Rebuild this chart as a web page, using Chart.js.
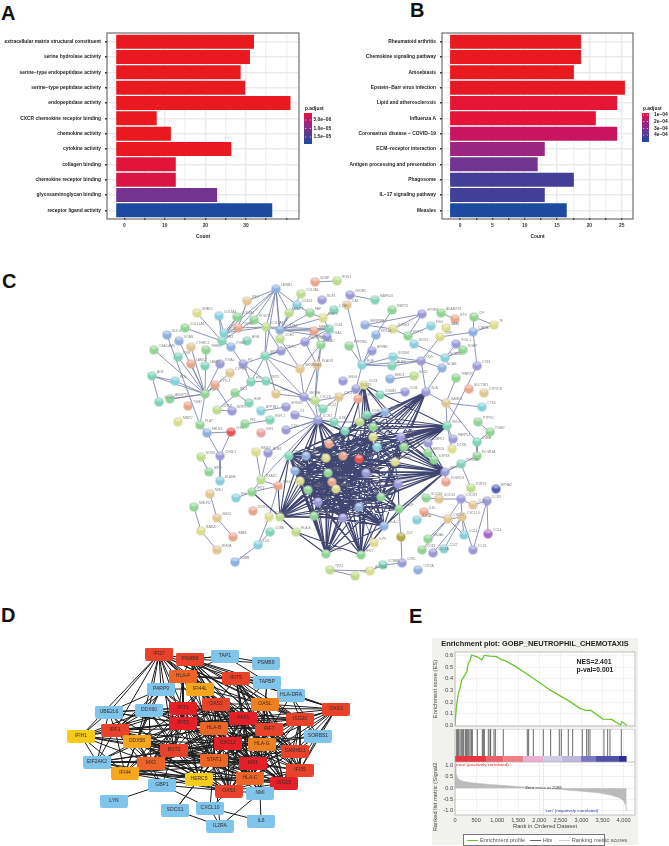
<!DOCTYPE html>
<html>
<head>
<meta charset="utf-8">
<title>Enrichment and network panels</title>
<script src="https://cdn.jsdelivr.net/npm/chart.js@4/dist/chart.umd.js"></script>
<style>
  html, body { margin: 0; padding: 0; background: #fff; }
  #page { position: relative; width: 669px; height: 846px; overflow: hidden; font-family: "Liberation Sans", Arial, sans-serif; }
  canvas { position: absolute; }
  .tag { position: absolute; font-weight: bold; font-size: 20px; line-height: 20px; color: #111; }
  #gseaBack { position: absolute; left: 432px; top: 638px; width: 206px; height: 207px; background: #f1f1ee; }
  #gseaKey { position: absolute; left: 463px; top: 834px; width: 140px; height: 10px; background: #fff; border: 1px solid #777;
             font-size: 5.6px; line-height: 10px; color: #555; white-space: nowrap; }
  #gseaKey i { display: inline-block; width: 11px; height: 1.2px; vertical-align: middle; margin: 0 2px 0 3px; }
</style>
</head>
<body>
<div id="page">
  <div class="tag" style="left:1px;top:3px">A</div>
  <div class="tag" style="left:410px;top:0px">B</div>
  <div class="tag" style="left:2px;top:271px">C</div>
  <div class="tag" style="left:1px;top:605px">D</div>
  <div class="tag" style="left:409px;top:606px">E</div>
  <div id="gseaBack"></div>
  <canvas id="barA" width="340" height="240" style="left:0;top:0"></canvas>
  <canvas id="barB" width="329" height="240" style="left:340px;top:0"></canvas>
  <canvas id="string" width="450" height="355" style="left:95px;top:235px"></canvas>
  <canvas id="hubs" width="400" height="246" style="left:0;top:600px"></canvas>
  <canvas id="esPlot" width="206" height="92" style="left:432px;top:638px"></canvas>
  <canvas id="hitPlot" width="206" height="33" style="left:432px;top:729px"></canvas>
  <canvas id="rankPlot" width="206" height="72" style="left:432px;top:762px"></canvas>
  <div id="gseaKey"><i style="background:#6cc52f"></i>Enrichment profile <i style="background:#666"></i>Hits <i style="background:#ccc;margin-left:5px"></i>Ranking metric scores</div>
</div>

<script>
// panel A
const termsA = ['extracellular matrix structural constituent', 'serine hydrolase activity', 'serine\u2212type endopeptidase activity',
  'serine\u2212type peptidase activity', 'endopeptidase activity', 'CXCR chemokine receptor binding', 'chemokine activity',
  'cytokine activity', 'collagen binding', 'chemokine receptor binding', 'glycosaminoglycan binding', 'receptor ligand activity'];
const countA = [32, 31, 28.7, 29.8, 41, 8, 11.5, 26.4, 12.7, 12.7, 22.9, 36.5];
const padjA = [9e-7, 9e-7, 9e-7, 9e-7, 9e-7, 9e-7, 9e-7, 9e-7, 1.8e-6, 2.4e-6, 1.13e-5, 1.91e-5];
const padjTicksA = [5e-6, 1e-5, 1.5e-5];
const padjLabelsA = ['5.0e\u221206', '1.0e\u221205', '1.5e\u221205'];

// panel B
const termsB = ['Rheumatoid arthritis', 'Chemokine signaling pathway', 'Amoebiasis', 'Epstein\u2212Barr virus infection',
  'Lipid and atherosclerosis', 'Influenza A', 'Coronavirus disease \u2212 COVID\u221219', 'ECM\u2212receptor interaction',
  'Antigen processing and presentation', 'Phagosome', 'IL\u221217 signaling pathway', 'Measles'];
const countB = [18.7, 18.7, 17.6, 25.5, 24.3, 21, 24.3, 13.1, 12, 17.6, 13.1, 16.5];
const padjB = [7e-5, 7e-5, 7e-5, 7.5e-5, 8.8e-5, 9e-5, 1.35e-4, 2.35e-4, 3.27e-4, 4.2e-4, 4.25e-4, 5.05e-4];
const padjTicksB = [1e-4, 2e-4, 3e-4, 4e-4];
const padjLabelsB = ['1e\u221204', '2e\u221204', '3e\u221204', '4e\u221204'];

// panel C, string network (x, y)
const netName = ['GDNF','RGS1','LMNB1','COL7A1','NCF1','KIF1','CD163','CTSK','SPARC','MMP1',
  'FAP','COL6A1','COL8A1','POSTN','MMP3','COL1A1','COL5A1','COL12A1','LOX','TGFBI',
  'MMP9','CD44','SDC4','VCAN','FN1','BGN','CDH2','ITGA5','SERPINE1','PLAU',
  'CEACAM6','CTHRC1','THBS2','ITGB5','TIMP1','LUM','SPP1','LAMC2','LAMB3','ITGA2',
  'F3','SERPINA1','PLAUR','CYP1B1','ACE','ELN','CYTL1','PI3','KRT5','PIK3',
  'FGF7','TNC','VEGFA','CXCL8','TGFB2','ANGPT2','TGM2','HGF','CDH11','NRP1',
  'ATP1B1','SPINK1','C3','CCL2','CXCL12','ESPL1','MMP2','PLAT','FBLN1','OGN',
  'PRL','IGF1','C1S','CCR1','IL1B','CCL19','CD74','CCR7','CD86','CD52',
  'HCK','IL6','ICAM1','CCL5','CD69','CXCL10','CXCL9','CXCL11','IRF1','TNF',
  'STAT1','IFIH1','DDX58','ISG15','MX1','OAS1','OAS2','OAS3','IFI44','RSAD2',
  'IFIT1','IFI6','IFIT3','GBP1','DDIT4','MKI67','BUB1','NMU','NMUR2','GNG2',
  'RAB20','RAB6','RHOA','CD3E','CD4','CD8A','HLA-E','LCK','GZMB','CHI3L1',
  'NOS2','MPO','ELANE','HLA-A','HLA-B','HLA-C','HLA-F','PSMB8','PSMB9','TAP1',
  'XAF1','EPSTI1','CMPK2','PARP14','DTX3L','HERC6','USP18','ISG20','SAMD9','CTSS',
  'PTPRC','ITGB2','CYBB','FCGR3A','TYROBP','IRF7','FCER1G','P2RY6','EPHA2','CXCR3',
  'CCR5','CCR2','SOCS1','SOCS3','IL10','IL2RA','CXCR4','CXCL13','CCL4','CCL3',
  'CCL8','MS4A1','CD2','CD19','CD79A','CD22','TOP2A','CDK1','CCNB1','AURKA',
  'TTK','TPX2','IL7R','IFI27','IFITM1','OR1B1','MAPK10','CA1','MMP25','SPRR3',
  'SERPINB4','KCNK3','KRT6A','KRT17','FGG','ADAMTS1','NTS','CFI','TF','C4BPA',
  'SAA1','CRP','VGLL1','NGEF','NOX1','EPHB2','PTPRN2','EGF','KCNN4','BLNK',
  'CD5','NCAM1','NCAN','CT83','TFAP2C','EMC3','SOX2','SULT1E1','CYP2C8','CNGB2',
  'CD3L','GLA','GNG4'];
const netX = [315,337,276,301,322,247,297,334,197,289,
  310,219,237,254,323,266,280,185,224,238,
  314,329,167,179,222,247,280,327,305,321,
  154,191,206,231,281,178,265,191,205,220,
  243,300,317,230,152,175,215,251,266,235,
  205,276,304,315,159,170,188,249,217,232,
  261,286,295,323,339,270,178,200,207,231,
  245,261,286,318,334,356,364,358,367,360,
  373,345,373,329,377,343,359,326,306,289,
  366,328,332,336,295,300,308,318,278,261,
  252,236,381,359,253,256,268,210,194,217,
  201,233,217,269,280,270,296,258,235,220,
  201,209,220,314,343,384,399,398,395,385,
  401,404,428,453,452,428,434,447,446,482,
  478,490,477,477,461,445,446,471,496,461,
  487,473,439,426,424,417,448,462,464,488,
  473,428,401,422,433,444,418,402,383,370,
  355,330,374,361,326,350,375,347,392,422,
  365,393,376,408,431,441,455,474,494,473,
  446,440,456,463,414,372,349,362,393,392,
  421,445,442,477,456,390,414,469,484,380,
  405,426,343];
const netY = [282,281,289,294,300,301,305,310,313,313,
  313,316,317,320,318,327,330,328,333,328,
  331,329,335,341,341,341,339,337,342,345,
  350,347,350,347,351,357,356,364,366,364,
  364,369,365,373,376,381,385,382,381,393,
  394,394,397,401,402,399,406,403,410,411,
  411,407,415,409,397,420,422,425,433,432,
  424,433,430,420,422,389,385,399,415,422,
  427,431,437,444,447,456,459,458,456,456,
  473,473,482,489,471,481,490,502,486,480,
  492,498,497,507,511,452,453,494,507,518,
  531,537,550,517,517,532,532,545,562,456,
  457,472,481,516,518,526,509,484,462,412,
  437,447,443,439,449,453,460,426,403,407,
  422,432,442,456,464,472,482,488,489,499,
  501,505,499,498,512,520,519,517,535,534,
  550,539,537,550,553,549,570,563,565,571,
  576,570,543,555,554,295,300,305,310,314,
  325,329,335,336,326,313,319,317,325,332,
  328,337,344,350,344,351,346,365,357,366,
  361,358,368,366,378,379,376,389,393,395,
  392,392,381];
const netGroup = ['sa','yg','bl','yg','pu','ta','cy','te','ye','yg',
  'gr','cy','gr','gr','ye','yg','bl','gr','cy','sa',
  'sa','te','bl','bl','te','te','yg','pu','pu','gr',
  'gr','ta','gr','bl','pu','te','te','sa','te','pu',
  'pu','ta','ta','ta','te','cy','sa','te','te','gr',
  'gr','ta','pu','yg','te','gr','sa','te','yg','pu',
  'cy','pu','pu','te','ta','te','ye','gr','bl','re',
  'gr','pi','pu','pu','te','pu','ye','sa','te','yg',
  'gr','te','ye','sa','cy','sa','re','ye','bl','te',
  'pu','gr','sa','ye','bl','ye','gr','pu','sa','yg',
  'gr','cy','gr','bl','sa','ye','pu','ta','gr','ta',
  'ye','sa','ta','ye','yg','te','yg','cy','bl','pu',
  'yg','gr','cy','gr','pu','bl','gr','pu','ye','bl',
  'pu','gr','pu','pu','ye','gr','gr','te','ta','cy',
  'gr','gr','te','gr','te','pu','sa','yg','db','pu',
  'pu','ta','ta','gr','sa','cy','ta','ta','cy','mg',
  'pu','gr','ol','gr','pu','cy','bl','pu','te','ye',
  'yg','yg','ye','gr','gr','pu','te','ta','gr','pu',
  'bl','ye','bl','gr','cy','gr','sa','gr','ye','bl',
  'ye','ye','pu','gr','cy','pu','gr','cy','cy','te',
  'pu','cy','bl','pu','gr','bl','yg','sa','ta','te',
  'pu','pu','pu'];
const netEdgesThin = '0-1 2-5 2-6 2-9 2-13 2-15 2-16 2-19 2-18 2-26 2-36 3-16 5-19 6-16 6-10 7-14 8-24 9-16 10-16 10-14 11-24 11-18 12-18 12-24 ' +
  '13-15 13-24 14-16 14-21 15-16 15-19 15-18 15-36 15-21 16-20 16-21 16-27 17-24 18-24 18-19 20-21 20-28 20-29 21-27 21-28 27-41 27-29 28-42 28-36 ' +
  '29-42 29-53 22-67 23-50 30-50 31-50 32-50 33-24 33-40 34-36 34-40 34-15 35-50 36-41 36-52 36-47 37-50 39-50 40-47 40-48 41-52 41-26 42-52 42-53 ' +
  '43-50 44-54 44-50 44-45 45-50 46-50 46-59 47-48 47-58 48-52 48-53 49-57 50-55 50-67 51-36 51-52 52-53 52-63 53-64 53-63 55-50 59-58 60-61 ' +
  '63-73 63-64 62-73 64-75 64-74 65-70 67-68 68-69 68-119 69-119 119-122 120-121 72-73 73-52 73-53 73-72 73-106 73-99 105-99 106-99 98-99 98-113 98-100 ' +
  '100-99 101-100 113-117 115-117 117-118 107-109 108-110 110-112 109-111 175-176 177-197 178-182 179-180 179-181 179-183 180-181 181-183 183-184 185-186 ' +
  '187-189 187-188 188-189 189-191 189-203 191-200 192-193 192-201 193-201 194-201 182-197 195-197 196-197 197-198 197-199 197-200 198-200 199-200 197-75 ' +
  '200-202 200-211 202-211 203-137 204-138 205-206 209-210 211-138 138-142 138-137 140-141 141-142 142-143 144-147 144-145 145-146 149-152 149-157 149-151 ' +
  '150-151 150-160 150-159 157-158 157-160 157-156 156-149 156-158 153-152 154-156 156-163 157-164 157-165 161-156 162-167 167-168 168-169 169-171 170-171 ' +
  '172-103 126-162 75-76 76-77 77-79 78-79 79-80 74-79 74-81 78-80 129-78 129-80 132-137 133-137 134-137 135-145 136-145 143-145 130-145 131-137 139-138';
// adjacency of the dense core, hub: neighbours
const netCore = [
  [73, '81 83 85 87 88 89 91 92 94 95 93 74 86 96 90 84'],
  [114, '83 85 87 88 89 91 92 93 94 95 96 97 98 100 103 116 123 124 86 90 82 102'],
  [173, '83 85 86 87 90 91 92 93 94 95 96 97 103 116 124 125 126 127 82 128'],
  [174, '83 85 86 87 88 89 90 91 92 93 94 95 96 97 103 116 123 124 125 82 127'],
  [145, '76 78 79 80 82 84 85 86 87 88 89 90 91 92 93 94 95 96 97 102 103 123 125 126 127 128 130 131 132 135'],
  [137, '76 78 79 80 82 84 85 86 87 88 89 90 91 92 93 94 95 83 81 128 130 131 132 96'],
  [211, '79 80 82 84 85 86 87 88 89 83 81 90 128 130 131'],
  [81, '82 83 85 87 88 89 86 91 94 90 92 93 84 80 79'],
  [82, '83 84 85 86 87 88 89 90 91 92 93 94 128 130 103 96 124'],
  [83, '85 86 87 88 89 90 91 92 93 94 95 96 97 124'],
  [84, '85 86 87 90 91 92 93 102 128 130 131 127'],
  [85, '86 87 88 89 90 91 92 93 94 95 96 97 102 103 123 124 125 126 127 128'],
  [86, '87 88 89 90 91 92 93 94 95 96 97 102 103 123 124 125 127 128 130'],
  [87, '88 89 90 91 92 93 94 95 96 97 102 103 123 124 125 128'],
  [88, '89 90 91 92 93 94 95 96 97 123 124 103'],
  [89, '90 91 92 93 94 95 96 97 123 124 98 103'],
  [90, '91 92 93 94 95 96 97 102 103 123 124 125 126 127 128 130 131'],
  [91, '92 93 94 95 96 97 102 103 123 124 125 127'],
  [92, '93 94 95 96 97 102 103 123 124 125 126'],
  [93, '94 95 96 97 102 103 123 124 125 126 127 128'],
  [94, '95 96 97 103 123 124 125'],
  [95, '96 97 123 124 103 125'],
  [96, '97 103 123 124 125 126'],
  [97, '102 103 123 124 125 126 127'],
  [102, '103 125 126 127 128 130 131'],
  [103, '123 124 125 126 127 128'],
  [123, '124 125'],
  [124, '125 126'],
  [127, '128 125 126'],
  [128, '129 130 131'],
  [76, '80 85 86 82 129 78 90 87'],
  [78, '85 86 82 83 87'],
  [80, '85 86 87 90 93']
];

// panel D, hub genes (x, y)
const hubName = ['IFI27','PSMB8','TAP1','PSMB9','HLA-F','IFIT5','TAPBP','PARP9','IFI44L','HLA-DRA',
  'OAS2','OASL','OAS3','IFIT1','UBE2L6','DDX60','XAF1','ISG20','IFIT3','IRF1',
  'HLA-B','IRF7','IFIH1','SORBS1','DDX58','CXCL2','HLA-G','BST2','SAMHD1','EIF2AK2',
  'STAT1','MX1','MX2','IFI35','IFI44','HERC5','HLA-C','ISG15','GBP1','OAS1',
  'NMI','LYN','SOCS1','CXCL10','IL6','IL2RA'];
const hubX = [159,190,225,266,183,236,267,161,200,291,
  216,265,336,183,109,149,243,300,183,115,
  214,269,81,318,137,228,262,174,295,97,
  214,253,151,300,125,199,250,284,162,229,
  260,114,175,210,261,220];
const hubY = [654,659,656,663,676,678,682,689,689,695,
  704,704,709,708,712,710,718,719,723,730,
  728,729,736,736,741,743,744,750,751,762,
  760,763,763,770,773,779,778,783,785,791,
  793,801,810,808,821,826];
const hubHeat = ['ro','ro','bl','bl','or','ro','bl','bl','am','bl',
  'ro','om','ro','re','bl','bl','re','ro','re','ro',
  'or','ro','ye','bl','am','re','om','ro','ro','bl',
  'or','re','or','ro','am','ye','or','re','bl','ro',
  'bl','bl','bl','bl','bl','bl'];
const hubLinks = [
  ['IFI27', 'PSMB8 HLA-F IFIT5 IFI44L PARP9 OAS2 OASL IFIT1 IFIT3 XAF1 IRF1 DDX60 HLA-B IRF7 BST2 ISG20 UBE2L6 IFIH1 DDX58'],
  ['PSMB8', 'TAP1 PSMB9 HLA-F IFIT5 TAPBP IFI44L OAS2 OASL HLA-B STAT1 XAF1 IRF7 HLA-G HLA-C SAMHD1 ISG20 OAS3 MX1'],
  ['TAP1', 'PSMB9 TAPBP HLA-F PSMB8'],
  ['HLA-F', 'IFIT5 OAS2 IFIT1 HLA-B XAF1 HLA-G STAT1 IRF1 BST2 IFIT3 ISG20 TAPBP'],
  ['IFIT5', 'OAS2 OASL XAF1 IRF7 ISG20 OAS3 HLA-DRA TAPBP HLA-G SAMHD1 IFI35 ISG15 MX1 HLA-C'],
  ['TAPBP', 'HLA-B HLA-G HLA-DRA OASL'],
  ['PARP9', 'IRF1 IFIT1 IFIT3 DDX60 UBE2L6 DDX58 STAT1 HLA-B IFI44L'],
  ['IFI44L', 'OAS2 IFIT1 IFIT3 XAF1 HLA-B CXCL2 MX1 MX2 OASL IRF7 ISG15'],
  ['HLA-DRA', 'OAS3 HLA-G SORBS1 OASL ISG20'],
  ['OAS2', 'OASL IFIT1 IFIT3 XAF1 HLA-B IRF7 CXCL2 HLA-G BST2 STAT1 MX1 MX2 ISG15 OAS1 HERC5 SAMHD1 IFI35'],
  ['OASL', 'OAS3 XAF1 ISG20 IRF7 HLA-G CXCL2 MX1 SAMHD1 ISG15 STAT1 HLA-B IFI35'],
  ['OAS3', 'ISG20 IRF7 XAF1 SAMHD1 IFI35 ISG15 HLA-G SORBS1 MX1 OAS1 IFIT1 CXCL2'],
  ['IFIT1', 'IFIT3 XAF1 HLA-B IRF1 IRF7 BST2 DDX58 DDX60 CXCL2 STAT1 MX1 MX2 ISG15 OAS1 HERC5 IFI44 IFIH1 ISG20 HLA-C'],
  ['UBE2L6', 'IRF1 DDX60 IFIT3 BST2 IFIH1 HLA-B DDX58 EIF2AK2 IFIT1 MX2'],
  ['DDX60', 'IRF1 IFIT3 DDX58 BST2 IFIH1 HLA-B MX2 STAT1 XAF1 HERC5 IFI44 CXCL2'],
  ['XAF1', 'IFIT3 HLA-B IRF7 ISG20 CXCL2 HLA-G BST2 STAT1 MX1 MX2 SAMHD1 IFI35 ISG15 HLA-C OAS1 HERC5 IRF1 NMI'],
  ['ISG20', 'IRF7 HLA-G CXCL2 SAMHD1 IFI35 ISG15 MX1 HLA-B STAT1 IFIT3 HLA-C'],
  ['IFIT3', 'HLA-B IRF1 BST2 DDX58 IFIH1 STAT1 MX2 MX1 CXCL2 IRF7 IFI44 HERC5 EIF2AK2 OAS1 ISG15 HLA-C'],
  ['IRF1', 'IFIH1 DDX58 BST2 EIF2AK2 MX2 STAT1 IFI44 HLA-B CXCL2 HERC5 GBP1 HLA-C OAS1 MX1'],
  ['HLA-B', 'IRF7 CXCL2 HLA-G BST2 STAT1 MX1 MX2 HLA-C OAS1 ISG15 SAMHD1 IFI35 HERC5 DDX58 NMI'],
  ['IRF7', 'CXCL2 HLA-G SAMHD1 IFI35 ISG15 MX1 HLA-C STAT1 OAS1 BST2 MX2 HERC5 NMI'],
  ['IFIH1', 'DDX58 EIF2AK2 IFI44 MX2 BST2 STAT1'],
  ['SORBS1', 'SAMHD1 IFI35 HLA-G CXCL2 ISG20'],
  ['DDX58', 'BST2 EIF2AK2 MX2 IFI44 STAT1 HERC5 CXCL2 HLA-B HLA-C OAS1 MX1 GBP1'],
  ['CXCL2', 'HLA-G BST2 STAT1 MX1 MX2 HLA-C OAS1 ISG15 SAMHD1 IFI35 HERC5 NMI'],
  ['HLA-G', 'STAT1 MX1 SAMHD1 IFI35 ISG15 HLA-C OAS1 BST2 NMI'],
  ['BST2', 'STAT1 MX1 MX2 IFI44 HERC5 OAS1 HLA-C ISG15 EIF2AK2 GBP1'],
  ['SAMHD1', 'IFI35 ISG15 MX1 HLA-C STAT1 OAS1'],
  ['EIF2AK2', 'MX2 IFI44 STAT1 HERC5 MX1 OAS1 CXCL2'],
  ['STAT1', 'MX1 MX2 IFI44 HERC5 HLA-C OAS1 ISG15 IFI35 GBP1 NMI CXCL10 SOCS1 IL2RA'],
  ['MX1', 'MX2 IFI35 HERC5 HLA-C ISG15 OAS1 IFI44 NMI'],
  ['MX2', 'IFI44 HERC5 OAS1 HLA-C ISG15'],
  ['IFI35', 'ISG15 HLA-C OAS1 NMI'],
  ['IFI44', 'HERC5 OAS1 HLA-C ISG15'],
  ['HERC5', 'OAS1 HLA-C ISG15 GBP1 SOCS1'],
  ['HLA-C', 'ISG15 OAS1 NMI'],
  ['ISG15', 'OAS1 NMI'],
  ['GBP1', 'LYN CXCL10 OAS1'],
  ['OAS1', 'CXCL10 NMI'],
  ['NMI', 'IL6 IL2RA'],
  ['SOCS1', 'IL2RA'],
  ['CXCL10', 'IL6 IL2RA']
];

// panel E, GSEA
const esRank = [0,30,55,80,120,160,237,277,316,356,395,474,553,632,695,830,988,1107,1186,1423,1778,2253,2727,2964,3123,3218,3510,3716,3929,3960,4071];
const esValue = [0,.146,.218,.276,.32,.39,.434,.46,.535,.557,.606,.597,.586,.563,.603,.597,.592,.563,.557,.51,.425,.305,.204,.146,.126,.13,.054,.051,.003,.031,0];
const hitRanks = [40,63,87,119,150,182,206,245,269,292,324,356,387,411,530,648,672,696,790,830,846,925,957,1146,1715,1747,1858,2095,2269,2474,2522,2688,2791,3020,3123,3162,3202,3534,3621,3676,3945];
const ribbonEnds = [750,1146,1620,2095,2530,2988,3344,3873,4071];
const metricRank = [0,20,50,100,200,400,800,1200,1600,2098,2500,3000,3400,3700,3900,4000,4050,4071];
const metricValue = [1,.7,.5,.37,.3,.24,.17,.12,.06,0,-.05,-.13,-.2,-.3,-.42,-.55,-.75,-1];
const zeroCross = 2098;

// styles
const sans = '"Liberation Sans", Arial, sans-serif';
const frameColor = '#555';
const nodePalette = { sa:'#e9a58c', yg:'#bddc8c', bl:'#8fb0de', pu:'#9a9ad8', ta:'#e0c690', cy:'#86d0dc', te:'#7fd3b6', ye:'#dcdc8e',
  gr:'#90d494', re:'#e85454', pi:'#e9a2a2', db:'#5560b0', mg:'#a868c4', ol:'#b0a83e' };
const hubPalette = { re:'#e41f27', ro:'#e8432a', or:'#ec6526', om:'#f07f22', am:'#f6a71e', ye:'#f7cb1c', bl:'#7fc4ea' };
const ribbonColors = ['#e8373f','#e8606a','#f08088','#eeb0d0','#d0cce6','#c0b8e0','#7a78c2','#5050a8','#2a2a98'];
const padjStops = [[0,[232,25,31]],[.05,[227,20,58]],[.15,[201,21,95]],[.38,[154,38,130]],[.59,[111,53,144]],[.81,[66,63,151]],[1,[28,74,160]]];

Chart.defaults.animation = false;
Chart.defaults.responsive = false;
Chart.defaults.font.family = sans;
Chart.defaults.plugins.legend.display = false;
Chart.defaults.plugins.tooltip.enabled = false;

function padjColor(v, lo, hi) {
  const t = Math.min(1, Math.max(0, (v - lo) / (hi - lo)));
  let i = 0;
  while (i < padjStops.length - 2 && t > padjStops[i + 1][0]) i++;
  const [t0, c0] = padjStops[i], [t1, c1] = padjStops[i + 1];
  const k = (t - t0) / (t1 - t0);
  const mix = n => Math.round(c0[n] + (c1[n] - c0[n]) * k);
  return `rgb(${mix(0)},${mix(1)},${mix(2)})`;
}

// frame plus colour bar legend of the enrichment bars
function barExtras(o) {
  return {
    id: 'barExtras',
    afterDraw(chart) {
      const { ctx, chartArea: a } = chart;
      ctx.save();
      ctx.strokeStyle = frameColor;
      ctx.lineWidth = 1;
      ctx.strokeRect(a.left, a.top - 1, a.right - a.left, a.bottom - a.top + 2);
      const g = ctx.createLinearGradient(0, o.top, 0, o.top + o.h);
      padjStops.forEach(([t, c]) => g.addColorStop(t, `rgb(${c.join(',')})`));
      ctx.fillStyle = g;
      ctx.fillRect(o.x, o.top, o.w, o.h);
      ctx.fillStyle = '#222';
      ctx.font = 'bold 4.9px ' + sans;
      ctx.textBaseline = 'middle';
      ctx.fillText('p.adjust', o.x + 1, o.top - 4);
      o.ticks.forEach((v, i) => {
        const y = o.top + (v - o.lo) / (o.hi - o.lo) * o.h;
        ctx.fillStyle = '#fff';
        ctx.fillRect(o.x + 1, y - .3, 1.3, .6);
        ctx.fillRect(o.x + o.w - 2.3, y - .3, 1.3, .6);
        ctx.fillStyle = '#222';
        ctx.fillText(o.labels[i], o.x + o.w + o.gap, y);
      });
      ctx.restore();
    }
  };
}

function barChart(id, terms, counts, padj, o) {
  new Chart(document.getElementById(id), {
    type: 'bar',
    data: {
      labels: terms,
      datasets: [{
        data: counts,
        base: o.base,
        backgroundColor: padj.map(v => padjColor(v, o.lo, o.hi)),
        barPercentage: .91,
        categoryPercentage: 1
      }]
    },
    options: {
      indexAxis: 'y',
      layout: { autoPadding: false, padding: { top: 34, right: o.right, left: 0, bottom: 0 } },
      scales: {
        x: {
          min: o.xMin, max: o.xMax,
          afterFit: s => { s.height = 22; },
          afterBuildTicks: s => { s.ticks = o.grid.map(v => ({ value: v })); },
          grid: { color: c => (c.tick && o.labelled.includes(c.tick.value)) ? '#ebebeb' : '#f3f3f3', lineWidth: 1.4, tickLength: 2, tickColor: '#444' },
          border: { display: false },
          ticks: { color: '#333', font: { size: 4.9, weight: 'bold' }, padding: 3, maxRotation: 0,
            callback: v => o.labelled.includes(v) ? String(v) : '' },
          title: { display: true, text: 'Count', color: '#222', font: { size: 4.9, weight: 'bold' }, padding: 0 }
        },
        y: {
          afterFit: s => { s.width = o.left; },
          grid: { color: '#ebebeb', lineWidth: 1.4, offset: false, tickLength: 2, tickColor: '#333' },
          border: { display: false },
          ticks: { autoSkip: false, color: '#222', font: { size: 4.9, weight: 'bold' }, padding: 4 }
        }
      }
    },
    plugins: [barExtras(o)]
  });
}

barChart('barA', termsA, countA, padjA, {
  base: -2, xMin: -4.27, xMax: 43.1, left: 107, right: 41, lo: 9e-7, hi: 1.91e-5,
  grid: [0, 5, 10, 15, 20, 25, 30, 35, 40], labelled: [0, 10, 20, 30],
  ticks: padjTicksA, labels: padjLabelsA, x: 304, top: 113, w: 8, h: 31, gap: 1.5
});
barChart('barB', termsB, countB, padjB, {
  base: -1.55, xMin: -2.8, xMax: 26.75, left: 102, right: 36, lo: 7e-5, hi: 5.05e-4,
  grid: [0, 2.5, 5, 7.5, 10, 12.5, 15, 17.5, 20, 22.5, 25], labelled: [0, 5, 10, 15, 20, 25],
  ticks: padjTicksB, labels: padjLabelsB, x: 302, top: 113, w: 7, h: 29, gap: 5
});

// glossy ball sprite for the string nodes
function ballSprite(color) {
  const c = document.createElement('canvas');
  c.width = c.height = 11;
  const g = c.getContext('2d');
  const fill = g.createRadialGradient(5.5, 6, 1, 5.5, 5.5, 5);
  fill.addColorStop(0, color);
  fill.addColorStop(.8, color);
  fill.addColorStop(1, '#8a8b90');
  g.fillStyle = fill;
  g.beginPath(); g.arc(5.5, 5.5, 4.6, 0, Math.PI * 2); g.fill();
  g.fillStyle = 'rgba(255,255,255,.45)';
  g.beginPath(); g.ellipse(5.5, 3.2, 3, 1.6, 0, 0, Math.PI * 2); g.fill();
  return c;
}
function boxSprite(color) {
  const c = document.createElement('canvas');
  c.width = 28; c.height = 13;
  const g = c.getContext('2d');
  g.fillStyle = color;
  g.beginPath(); g.roundRect(0, 0, 28, 13, 2); g.fill();
  return c;
}
function spriteSet(palette, make) {
  const out = {};
  Object.keys(palette).forEach(k => { out[k] = make(palette[k]); });
  return out;
}

// one line dataset with gaps between the edges
function edgePoints(pairs, xs, ys) {
  const pts = [];
  pairs.forEach(([a, b]) => {
    pts.push({ x: xs[a], y: ys[a] }, { x: xs[b], y: ys[b] }, { x: NaN, y: NaN });
  });
  return pts;
}
function edgeDataset(pts, color, width, order) {
  return { type: 'line', data: pts, borderColor: color, borderWidth: width, pointRadius: 0, spanGaps: false, tension: 0, order: order };
}

const nodeLabels = {
  id: 'nodeLabels',
  afterDatasetsDraw(chart, args, o) {
    const { ctx, scales } = chart;
    ctx.save();
    ctx.font = o.font;
    ctx.fillStyle = o.color;
    ctx.textAlign = o.align;
    ctx.textBaseline = 'middle';
    o.names.forEach((n, i) => {
      ctx.fillText(n, scales.x.getPixelForValue(o.xs[i]) + o.dx, scales.y.getPixelForValue(o.ys[i]) + o.dy);
    });
    ctx.restore();
  }
};

function networkOptions(xMin, xMax, yMin, yMax, labels) {
  return {
    layout: { autoPadding: false, padding: 0 },
    scales: {
      x: { type: 'linear', min: xMin, max: xMax, display: false },
      y: { type: 'linear', min: yMin, max: yMax, reverse: true, display: false }
    },
    plugins: { nodeLabels: labels }
  };
}

// panel C
const ballSprites = spriteSet(nodePalette, ballSprite);
const thinPairs = netEdgesThin.split(' ').map(e => e.split('-').map(Number));
const corePairs = [];
netCore.forEach(([hub, list]) => list.split(' ').forEach(n => corePairs.push([hub, Number(n)])));
new Chart(document.getElementById('string'), {
  type: 'scatter',
  data: {
    datasets: [
      { data: netX.map((x, i) => ({ x: x, y: netY[i] })), pointStyle: netGroup.map(g => ballSprites[g]), pointRadius: 4.5, order: 0 },
      edgeDataset(edgePoints(corePairs, netX, netY), 'rgba(42,50,98,.9)', 1.1, 1),
      edgeDataset(edgePoints(thinPairs, netX, netY), '#6f78a6', .8, 2)
    ]
  },
  options: networkOptions(95, 545, 235, 590, { names: netName, xs: netX, ys: netY, font: '3.3px ' + sans, color: '#808080', align: 'left', dx: 5, dy: -4 }),
  plugins: [nodeLabels]
});

// panel D
const boxSprites = spriteSet(hubPalette, boxSprite);
const hubPairs = [];
hubLinks.forEach(([from, list]) => list.split(' ').forEach(to => hubPairs.push([hubName.indexOf(from), hubName.indexOf(to)])));
new Chart(document.getElementById('hubs'), {
  type: 'scatter',
  data: {
    datasets: [
      { data: hubX.map((x, i) => ({ x: x, y: hubY[i] })), pointStyle: hubHeat.map(h => boxSprites[h]), pointRadius: 7, order: 0 },
      edgeDataset(edgePoints(hubPairs, hubX, hubY), '#1c1c1c', 1, 1)
    ]
  },
  options: networkOptions(0, 400, 600, 846, { names: hubName, xs: hubX, ys: hubY, font: '5px ' + sans, color: '#3a2a2a', align: 'center', dx: 0, dy: 0 }),
  plugins: [nodeLabels]
});

// panel E
const rankMax = 4270;
const gseaAxisFont = { size: 5.6 };
const lightGrid = { color: '#e9e9e9', lineWidth: .6, drawTicks: false };
const plotBack = {
  id: 'plotBack',
  beforeDraw(chart) {
    const { ctx, chartArea: a } = chart;
    ctx.fillStyle = '#fff';
    ctx.fillRect(a.left, a.top, a.right - a.left, a.bottom - a.top);
  },
  afterDraw(chart) {
    const { ctx, chartArea: a } = chart;
    ctx.strokeStyle = '#aaa';
    ctx.lineWidth = .7;
    ctx.strokeRect(a.left, a.top, a.right - a.left, a.bottom - a.top);
  }
};
const notes = {
  id: 'notes',
  afterDatasetsDraw(chart, args, o) {
    const { ctx, scales } = chart;
    ctx.save();
    ctx.textBaseline = 'middle';
    o.items.forEach(t => {
      ctx.font = t.font;
      ctx.fillStyle = t.color;
      ctx.textAlign = t.align || 'left';
      const px = t.px !== undefined ? t.px : scales.x.getPixelForValue(t.x);
      ctx.fillText(t.text, px, t.py !== undefined ? t.py : scales.y.getPixelForValue(t.y));
    });
    ctx.restore();
  }
};
function gseaX(showTicks) {
  return {
    type: 'linear', min: 0, max: rankMax,
    afterBuildTicks: s => { s.ticks = [0, 500, 1000, 1500, 2000, 2500, 3000, 3500, 4000].map(v => ({ value: v })); },
    grid: lightGrid,
    border: { display: false },
    ticks: showTicks ? { color: '#444', font: gseaAxisFont, padding: 2, maxRotation: 0, callback: v => v.toLocaleString('en-US') } : { display: false }
  };
}
// keep the y axes of the stacked plots from shrinking the plot area
function pinY(s) {
  s.width = 23;
  s.paddingTop = 0;
  s.paddingBottom = 0;
}

new Chart(document.getElementById('esPlot'), {
  type: 'line',
  data: {
    datasets: [{ data: esRank.map((r, i) => ({ x: r, y: esValue[i] })), borderColor: '#6cc52f', borderWidth: 1.3, pointRadius: 0, tension: 0 }]
  },
  options: {
    layout: { autoPadding: false, padding: { top: 14, right: 3, bottom: 4, left: 0 } },
    scales: {
      x: Object.assign(gseaX(false), { afterFit: s => { s.height = 0; } }),
      y: {
        min: -.006, max: .632,
        afterFit: pinY,
        afterBuildTicks: s => { s.ticks = [0, .1, .2, .3, .4, .5, .6].map(v => ({ value: v })); },
        grid: lightGrid,
        border: { display: false },
        ticks: { color: '#444', font: gseaAxisFont, padding: 2, callback: v => v.toFixed(1) },
        title: { display: true, text: 'Enrichment score (ES)', color: '#444', font: { size: 5.8 }, padding: { top: 0, bottom: 1 } }
      }
    },
    plugins: {
      notes: { items: [
        { text: 'Enrichment plot: GOBP_NEUTROPHIL_CHEMOTAXIS', font: 'bold 7.4px ' + sans, color: '#222', align: 'center', px: 103, py: 5.5 },
        { text: 'NES=2.401', font: 'bold 6.8px ' + sans, color: '#222', px: 144.5, py: 24 },
        { text: 'p-val=0.001', font: 'bold 6.8px ' + sans, color: '#222', px: 144.5, py: 32 }
      ] }
    }
  },
  plugins: [plotBack, notes]
});

const hitPoints = [];
hitRanks.forEach(r => hitPoints.push({ x: r, y: 6 }, { x: r, y: 33 }, { x: NaN, y: NaN }));
const ribbonSets = ribbonEnds.map((end, i) => ({
  data: [{ x: i ? ribbonEnds[i - 1] : 0, y: 3 }, { x: end, y: 3 }],
  borderColor: ribbonColors[i], borderWidth: 6, borderCapStyle: 'butt', pointRadius: 0, tension: 0
}));
new Chart(document.getElementById('hitPlot'), {
  type: 'line',
  data: {
    datasets: [{ data: hitPoints, borderColor: 'rgba(50,50,50,.72)', borderWidth: 1, pointRadius: 0, spanGaps: false, tension: 0 }].concat(ribbonSets)
  },
  options: {
    layout: { autoPadding: false, padding: { top: 0, right: 3, bottom: 0, left: 0 } },
    scales: {
      x: Object.assign(gseaX(false), { afterFit: s => { s.height = 0; } }),
      y: { min: 0, max: 33, afterFit: pinY, grid: { display: false }, border: { display: false }, ticks: { display: false } }
    }
  },
  plugins: [plotBack]
});

new Chart(document.getElementById('rankPlot'), {
  type: 'line',
  data: {
    datasets: [
      { data: metricRank.map((r, i) => ({ x: r, y: metricValue[i] })), borderColor: '#bbb', borderWidth: .6, backgroundColor: '#bbb', fill: { value: 0 }, pointRadius: 0, tension: 0 },
      { data: [{ x: zeroCross, y: 1.16 }, { x: zeroCross, y: -1.18 }], borderColor: '#bbb', borderWidth: .6, borderDash: [1, 1], pointRadius: 0, tension: 0 }
    ]
  },
  options: {
    layout: { autoPadding: false, padding: { top: 0, right: 3, bottom: 0, left: 0 } },
    scales: {
      x: Object.assign(gseaX(true), {
        afterFit: s => { s.height = 19; },
        title: { display: true, text: 'Rank in Ordered Dataset', color: '#444', font: { size: 5.8 }, padding: { top: 0, bottom: 4 } }
      }),
      y: {
        min: -1.18, max: 1.16,
        afterFit: pinY,
        afterBuildTicks: s => { s.ticks = [-1, -.5, 0, .5, 1].map(v => ({ value: v })); },
        grid: lightGrid,
        border: { display: false },
        ticks: { color: '#444', font: gseaAxisFont, padding: 2, callback: v => v.toFixed(1) },
        title: { display: true, text: 'Ranked list metric (Signal2Noise)', color: '#444', font: { size: 5.8 }, padding: { top: 0, bottom: 1 } }
      }
    },
    plugins: {
      notes: { items: [
        { text: "'treat' (positively correlated)", font: '4.4px ' + sans, color: '#e03030', x: 5, y: 1.05 },
        { text: "'con' (negatively correlated)", font: '4.4px ' + sans, color: '#3040b0', x: 2130, y: -.98 },
        { text: 'Zero cross at 2098', font: '4.4px ' + sans, color: '#444', align: 'center', x: 2098, y: 0 }
      ] }
    }
  },
  plugins: [plotBack, notes]
});
</script>
</body>
</html>
